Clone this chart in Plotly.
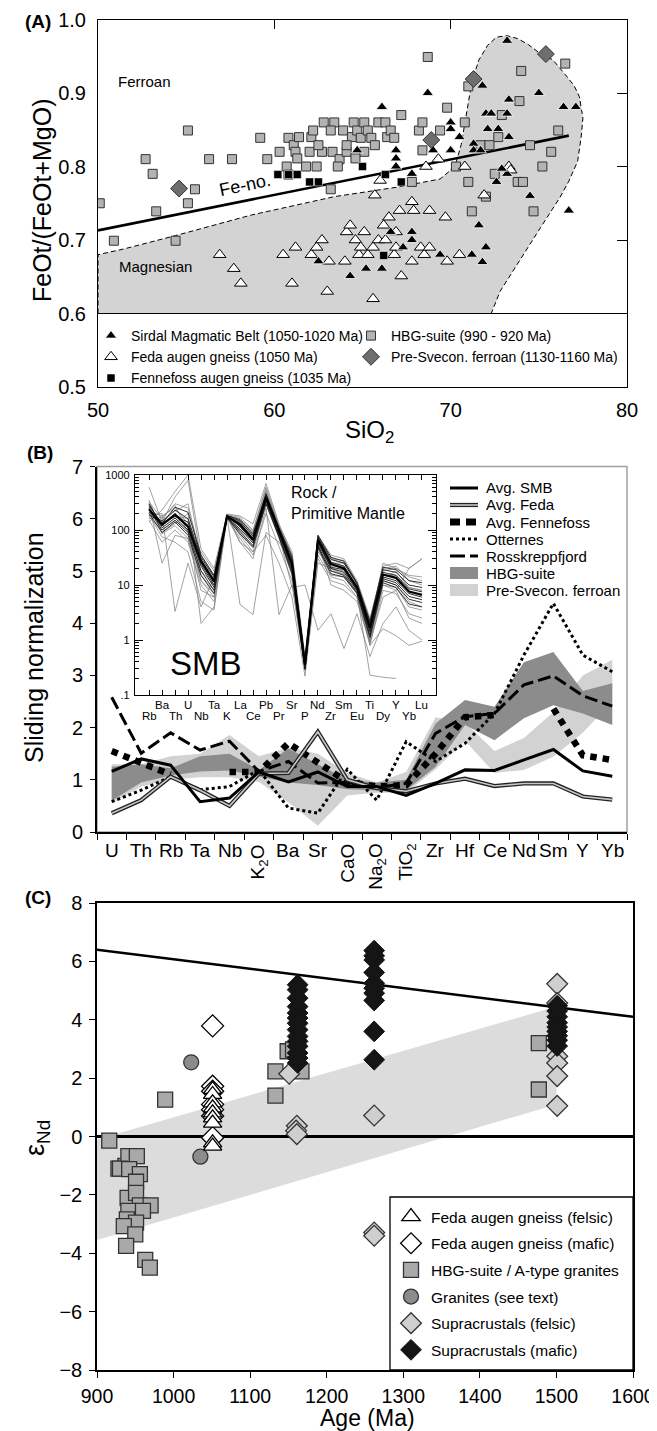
import plotly.graph_objects as go

# page is 657x1431; the HTML body has an 8px default margin, so the figure is 649x1423
OFF = 8
W, H = 657 - OFF, 1431 - OFF
FONT = "Liberation Sans, Arial, Helvetica, sans-serif"

# ======================= Panel A data (SiO2 vs Fe-number) =======================
hbg_si = [50.1, 50.9, 52.7, 53.1, 53.3, 54.4, 55.1, 55.1, 55.5, 56.3,
          57.6, 59.2, 59.6, 60.3, 60.7, 60.8, 60.8, 61.1, 61.2, 61.4,
          61.8, 62.0, 62.1, 62.2, 62.4, 62.7, 62.8, 63.2, 63.3, 63.4,
          63.2, 63.7, 63.9, 64.1, 64.4, 64.5, 64.7, 64.9, 65.1, 65.1,
          65.3, 65.5, 65.7, 65.9, 66.3, 66.4, 66.6, 66.8, 67.2, 67.8,
          68.2, 68.4, 68.7, 69.4, 69.8, 70.3, 70.8, 71.0, 71.0, 71.2,
          71.7, 72.0, 72.5, 72.7, 72.9, 73.9, 74.0, 73.8, 74.1, 74.5,
          74.7, 75.2, 75.7, 76.1, 76.5, 62.5, 64.1, 61.3, 64.6, 63.6,
          68.4, 72.2]
hbg_fe = [0.750, 0.699, 0.810, 0.790, 0.739, 0.699, 0.849, 0.750, 0.769, 0.810,
          0.810, 0.839, 0.810, 0.820, 0.800, 0.839, 0.789, 0.829, 0.820, 0.840,
          0.800, 0.820, 0.840, 0.849, 0.800, 0.820, 0.860, 0.769, 0.820, 0.860,
          0.849, 0.810, 0.849, 0.820, 0.840, 0.860, 0.849, 0.839, 0.860, 0.820,
          0.849, 0.839, 0.829, 0.860, 0.860, 0.840, 0.849, 0.839, 0.870, 0.779,
          0.849, 0.860, 0.949, 0.849, 0.880, 0.800, 0.860, 0.909, 0.779, 0.739,
          0.829, 0.759, 0.790, 0.840, 0.870, 0.889, 0.930, 0.779, 0.779, 0.829,
          0.739, 0.800, 0.820, 0.849, 0.940, 0.829, 0.829, 0.811, 0.811, 0.800,
          0.822, 0.829]

sirdal_si = [64.7, 66.1, 66.9, 66.9, 66.9, 67.8, 68.7, 69.0, 70.0, 70.0,
             70.0, 70.5, 71.3, 71.3, 71.7, 71.8, 72.0, 72.3, 72.1, 72.7,
             73.2, 73.3, 73.3, 73.2, 73.2, 72.6, 72.9, 74.5, 75.0, 76.4,
             77.1, 76.7, 71.6, 72.0, 71.8, 71.2, 69.4, 67.8, 67.8, 67.3,
             66.6, 65.2, 66.1, 64.3, 62.5]
sirdal_fe = [0.822, 0.881, 0.822, 0.811, 0.800, 0.790, 0.900, 0.822, 0.860, 0.851,
             0.822, 0.840, 0.831, 0.822, 0.822, 0.910, 0.872, 0.872, 0.851, 0.851,
             0.872, 0.891, 0.840, 0.790, 0.971, 0.779, 0.797, 0.760, 0.900, 0.881,
             0.881, 0.740, 0.720, 0.690, 0.670, 0.680, 0.680, 0.711, 0.700, 0.690,
             0.711, 0.661, 0.661, 0.651, 0.671]

feda_si = [56.9, 57.7, 58.1, 60.5, 61.0, 61.2, 62.1, 62.4, 62.7, 63.1,
           63.0, 64.0, 64.1, 64.3, 64.6, 64.8, 64.9, 65.1, 65.3, 65.6,
           65.6, 65.7, 65.9, 66.0, 66.2, 66.3, 66.5, 66.8, 66.9, 66.9,
           67.1, 67.2, 67.8, 67.9, 67.8, 68.3, 68.5, 68.6, 68.8, 68.8,
           69.3, 69.7, 69.8, 70.5, 70.8, 71.9, 73.3, 73.4]
feda_fe = [0.680, 0.661, 0.641, 0.680, 0.641, 0.690, 0.680, 0.690, 0.700, 0.671,
           0.630, 0.671, 0.711, 0.720, 0.700, 0.680, 0.690, 0.711, 0.680, 0.690,
           0.620, 0.761, 0.700, 0.781, 0.720, 0.700, 0.731, 0.680, 0.690, 0.711,
           0.740, 0.651, 0.752, 0.740, 0.671, 0.690, 0.680, 0.800, 0.690, 0.740,
           0.810, 0.731, 0.671, 0.680, 0.800, 0.761, 0.800, 0.795]

fenne_si = [60.2, 60.8, 61.3, 62.0, 62.5, 65.0, 66.3, 67.2, 66.2]
fenne_fe = [0.789, 0.789, 0.789, 0.779, 0.779, 0.800, 0.789, 0.779, 0.679]

presv_si = [54.6, 68.9, 71.3, 75.4]
presv_fe = [0.770, 0.836, 0.919, 0.953]

feno_si = [50.0, 76.7]
feno_fe = [0.713, 0.842]

mag_si = [50.0, 50.0, 51.5, 54.4, 58.7, 63.4, 67.0, 69.4, 69.9, 70.3, 70.6, 70.8,
          71.0, 71.2, 71.6, 72.1, 72.6, 73.2, 73.8, 74.4, 75.0, 75.8, 76.5, 77.0,
          77.3, 77.5, 77.4, 77.2, 76.7, 76.2, 75.1, 74.4, 73.6, 72.8, 72.3, 50.0]
mag_fe = [0.600, 0.680, 0.688, 0.706, 0.734, 0.759, 0.772, 0.783, 0.793, 0.805, 0.830, 0.860,
          0.890, 0.915, 0.945, 0.965, 0.976, 0.978, 0.974, 0.966, 0.955, 0.945, 0.925, 0.910,
          0.895, 0.866, 0.840, 0.807, 0.780, 0.758, 0.717, 0.690, 0.660, 0.630, 0.600, 0.600]

# ======================= Panel B data (sliding normalization) =======================
b_cats = ["U", "Th", "Rb", "Ta", "Nb", "K2O", "Ba", "Sr", "CaO", "Na2O",
          "TiO2", "Zr", "Hf", "Ce", "Nd", "Sm", "Y", "Yb"]
b_labels = ["U", "Th", "Rb", "Ta", "Nb", "K<sub>2</sub>O", "Ba", "Sr", "CaO", "Na<sub>2</sub>O",
            "TiO<sub>2</sub>", "Zr", "Hf", "Ce", "Nd", "Sm", "Y", "Yb"]
b_rotated = ["K2O", "CaO", "Na2O", "TiO2"]

avg_smb = [1.16, 1.40, 1.28, 0.58, 0.65, 1.15, 0.96, 1.15, 0.87, 0.87,
           0.70, 0.93, 1.19, 1.18, 1.38, 1.58, 1.17, 1.07]
avg_feda = [0.36, 0.61, 1.06, 0.80, 0.50, 1.12, 1.13, 1.92, 1.00, 0.84,
            0.78, 0.93, 1.02, 0.88, 0.93, 0.93, 0.68, 0.62]
avg_fennefoss = [1.55, 1.33, 1.10, None, 1.15, 1.15, 1.70, 1.32, 0.96, 0.87,
                 0.90, 1.50, 2.20, 2.24, None, 2.36, 1.47, 1.38]
otternes = [0.58, 0.80, 1.06, 0.81, 0.87, 1.19, 0.46, 0.36, 1.20, 0.61,
            1.73, 1.35, 1.70, 2.27, 3.39, 4.38, 3.39, 3.07]
rosskreppfjord = [2.58, 1.51, 1.90, 1.57, 1.74, 1.16, 1.35, 0.94, 0.95, 0.85,
                  0.93, 1.89, 2.21, 2.27, 2.82, 2.99, 2.61, 2.41]
hbg_hi = [1.25, 1.30, 1.22, 1.45, 1.50, 1.19, 1.60, 1.30, 1.00, 0.95,
          1.00, 2.08, 2.53, 2.40, 3.25, 3.45, 2.70, 2.85]
hbg_lo = [0.60, 0.95, 1.08, 1.16, 1.18, 1.06, 0.95, 0.90, 0.82, 0.80,
          0.80, 1.25, 2.05, 1.76, 2.18, 2.43, 2.27, 2.05]
psv_hi = [1.30, 1.30, 1.45, 1.50, 1.86, 1.45, 1.62, 1.50, 1.13, 0.95,
          1.15, 2.20, 2.10, 1.55, 1.80, 2.30, 3.00, 3.30]
psv_lo = [0.55, 0.87, 1.00, 1.05, 1.05, 0.96, 0.57, 0.12, 0.70, 0.75,
          0.75, 1.20, 1.75, 1.13, 1.19, 1.44, 1.90, 2.50]

# ---- inset: SMB rock / primitive mantle spider diagram ----
inset_cats = ["Rb", "Ba", "Th", "U", "Nb", "Ta", "K", "La", "Ce", "Pb", "Pr",
              "Sr", "P", "Nd", "Zr", "Sm", "Eu", "Ti", "Dy", "Y", "Yb", "Lu"]
inset_mean = [237, 125, 190, 115, 27, 11.5, 178, 125, 67, 390, 96,
              24, 0.35, 67, 24, 20, 9, 1.66, 15.5, 13.5, 7.6, 6.6]
inset_dark = [
    [260, 110, 165, 100, 22, 9, 170, 105, 58, 350, 85, 20, 0.32, 58, 20, 17, 8, 1.4, 13, 11, 6.2, 5.4],
    [210, 145, 230, 160, 32, 14, 185, 145, 78, 430, 108, 28, 0.40, 76, 29, 25, 10.5, 2.0, 19, 17, 10, 9],
    [300, 120, 200, 120, 24, 10, 180, 115, 62, 410, 92, 22, 0.34, 62, 21, 19, 8.5, 1.5, 14, 12, 7, 6],
    [190, 135, 175, 140, 29, 12.5, 176, 135, 72, 370, 100, 26, 0.37, 70, 26, 22, 9.5, 1.8, 17, 15, 8.5, 7.5],
    [240, 100, 150, 90, 18, 8, 172, 95, 52, 330, 80, 18, 0.30, 52, 18, 15, 7.5, 1.2, 12, 10, 5.5, 4.8],
    [280, 130, 260, 210, 35, 15, 182, 155, 85, 460, 112, 32, 0.42, 80, 32, 27, 11, 2.2, 21, 19, 12, 11],
    [200, 90, 140, 80, 15, 7, 168, 85, 48, 300, 75, 16, 0.29, 48, 16, 14, 7, 1.1, 11, 9, 4.5, 4],
]
inset_gray = [
    [600, 140, 400, 800, 30, 13, 190, 170, 100, 600, 120, 40, 0.5, 80, 35, 30, 12, 2.5, 20, 22, 12, 10],
    [150, 60, 100, 60, 10, 5, 170, 80, 40, 300, 70, 15, 0.3, 45, 15, 14, 7, 1.0, 10, 9, 4, 3.5],
    [180, 200, 3.3, 25, 4, 14, 160, 150, 90, 350, 100, 30, 0.4, 60, 25, 25, 10, 2.0, 15, 15, 9, 8],
    [250, 90, 130, 200, 2, 4, 175, 4.4, 2.9, 90, 60, 25, 0.3, 40, 20, 18, 8, 1.2, 12, 10, 5, 4],
    [140, 230, 500, 1000, 45, 20, 195, 180, 130, 700, 130, 35, 0.45, 70, 30, 28, 11, 2.2, 22, 25, 20, 30],
    [300, 25, 80, 70, 8, 6, 170, 60, 30, 250, 2.9, 10, 0.3, 30, 12, 10, 6, 0.8, 8, 7, 3, 2.5],
    [220, 180, 250, 130, 15, 8, 180, 130, 70, 500, 80, 9, 10, 1.5, 3, 0.7, 3, 0.5, 2, 4, 1.5, 1],
    [170, 100, 150, 100, 12, 7, 170, 90, 50, 380, 75, 18, 0.32, 50, 18, 16, 7, 0.23, 0.21, 0.2, None, None],
    [320, 160, 300, 250, 35, 15, 185, 160, 95, 550, 110, 35, 0.38, 70, 30, 25, 11, 1.8, 25, 20, 15, 14],
    [190, 75, 60, 40, 5, 3.5, 165, 70, 35, 200, 50, 12, 0.28, 35, 14, 12, 6, 0.9, 10, 8, 2.5, 2],
    [240, 140, 220, 300, 28, 12, 180, 140, 80, 450, 100, 30, 0.36, 65, 25, 22, 9, 0.8, 1.6, 1.2, 0.8, 0.95],
    [210, 120, 180, 160, 18, 10, 175, 120, 65, 400, 95, 22, 0.35, 60, 10, 8, 5, 0.9, 6, 8, 20, 30],
    [160, 170, 280, 90, 40, 18, 190, 60, 40, 80, 25, 6, 0.22, 25, 20, 15, 9, 1.2, 13, 18, 9, 8],
    [350, 85, 120, 70, 12, 6, 180, 100, 65, 420, 95, 35, 0.3, 55, 22, 22, 8, 1.8, 18, 20, 14, 12],
]

# ======================= Panel C data (eps Nd vs age) =======================
fedaf_age = [1051, 1051, 1051, 1051, 1051, 1051, 1051, 1051, 1051]
fedaf_eps = [1.61, 1.44, 1.15, 0.98, 0.81, 0.64, 0.46, -0.22, -0.33]
fedam_age = [1051, 1051, 1051, 1051, 1051, 1051, 1051]
fedam_eps = [3.79, 1.72, 1.55, 1.10, 0.92, 0.70, -0.04]
hbgc_age = [916, 937, 928, 941, 952, 930, 942, 956, 951, 940,
            951, 956, 970, 941, 960, 939, 951, 935, 950, 938,
            963, 969, 989, 1133, 1133, 1149, 1156, 1167, 1477, 1477]
hbgc_eps = [-0.14, -1.01, -1.10, -0.67, -0.67, -1.10, -1.12, -1.29, -1.55, -2.10,
            -1.93, -2.36, -2.36, -2.55, -2.55, -2.84, -2.95, -3.07, -3.35, -3.75,
            -4.23, -4.49, 1.26, 2.23, 1.40, 2.92, 2.98, 2.23, 3.20, 1.61]
gran_age = [1023, 1035]
gran_eps = [2.54, -0.69]
supf_age = [1151, 1161, 1160, 1161, 1262, 1262, 1262, 1501, 1501, 1501, 1501, 1501, 1501]
supf_eps = [2.15, 0.37, 0.20, 0.08, 0.72, -3.29, -3.40, 5.23, 4.57, 2.75, 2.52, 2.07, 1.05]
supm_age = [1162] * 14 + [1262] * 10 + [1501] * 9
supm_eps = [5.20, 5.03, 4.74, 4.45, 4.23, 4.06, 3.88, 3.66, 3.43, 3.26, 3.09, 2.86, 2.69, 2.52,
            6.37, 6.19, 6.05, 5.62, 5.25, 5.08, 4.91, 4.66, 3.60, 2.63,
            4.48, 4.30, 4.10, 3.90, 3.75, 3.60, 3.45, 3.30, 3.10]
band_age = [900, 1500, 1500, 900]
band_eps = [-0.1, 4.45, 1.1, -3.55]
dm_age = [900, 1600]
dm_eps = [6.4, 4.1]
chur_age = [900, 1600]
chur_eps = [0.0, 0.0]


def PX(x):
    return (x - OFF) / W


def PY(y):
    return 1 - (y - OFF) / H


traces = []
NL = dict(showlegend=False, hoverinfo="skip")

# ---------------- Panel A traces ----------------
traces.append(go.Scatter(x=mag_si, y=mag_fe, mode="lines", fill="toself", fillcolor="#d3d3d3",
                         line=dict(color="black", width=1, dash="5px,3px"), xaxis="x", yaxis="y", **NL))
traces.append(go.Scatter(x=feno_si, y=feno_fe, mode="lines", line=dict(color="black", width=2.6),
                         xaxis="x", yaxis="y", **NL))
traces.append(go.Scatter(x=hbg_si, y=hbg_fe, mode="markers", name="HBG-suite (990 - 920 Ma)",
                         marker=dict(symbol="square", size=9, color="#b3b3b3", line=dict(color="#333", width=1)),
                         xaxis="x", yaxis="y", legend="legend3", legendrank=1))
traces.append(go.Scatter(x=feda_si, y=feda_fe, mode="markers", name="Feda augen gneiss (1050 Ma)",
                         marker=dict(symbol="triangle-up", size=11, color="white", line=dict(color="black", width=1)),
                         xaxis="x", yaxis="y", legend="legend", legendrank=2))
traces.append(go.Scatter(x=sirdal_si, y=sirdal_fe, mode="markers", name="Sirdal Magmatic Belt (1050-1020 Ma)",
                         marker=dict(symbol="triangle-up", size=10, color="black", line=dict(color="white", width=0.8)),
                         xaxis="x", yaxis="y", legend="legend", legendrank=1))
traces.append(go.Scatter(x=presv_si, y=presv_fe, mode="markers", name="Pre-Svecon. ferroan (1130-1160 Ma)",
                         marker=dict(symbol="diamond", size=13, color="#6e6e6e", line=dict(color="#333", width=1)),
                         xaxis="x", yaxis="y", legend="legend3", legendrank=2))
traces.append(go.Scatter(x=fenne_si, y=fenne_fe, mode="markers", name="Fennefoss augen gneiss (1035 Ma)",
                         marker=dict(symbol="square", size=8, color="black", line=dict(color="white", width=0.5)),
                         xaxis="x", yaxis="y", legend="legend", legendrank=3))
traces.append(go.Scatter(x=[], y=[], xaxis="x5", yaxis="y5", **NL))

# ---------------- Panel B traces ----------------
bx = list(range(len(b_cats)))
traces.append(go.Scatter(x=bx + bx[::-1], y=psv_hi + psv_lo[::-1], mode="lines", fill="toself",
                         fillcolor="#d2d2d2", line=dict(width=0, color="#d2d2d2"), xaxis="x2", yaxis="y2", **NL))
traces.append(go.Scatter(x=bx + bx[::-1], y=hbg_hi + hbg_lo[::-1], mode="lines", fill="toself",
                         fillcolor="#8c8c8c", line=dict(width=0, color="#8c8c8c"), xaxis="x2", yaxis="y2", **NL))
traces.append(go.Scatter(x=bx, y=otternes, mode="lines", line=dict(color="black", width=3, dash="3px,3px"),
                         xaxis="x2", yaxis="y2", **NL))
traces.append(go.Scatter(x=bx, y=rosskreppfjord, mode="lines", line=dict(color="black", width=3, dash="13px,5px"),
                         xaxis="x2", yaxis="y2", **NL))
traces.append(go.Scatter(x=bx, y=avg_fennefoss, mode="lines", connectgaps=False,
                         line=dict(color="black", width=6.5, dash="6.5px,6px"), xaxis="x2", yaxis="y2", **NL))
traces.append(go.Scatter(x=bx, y=avg_feda, mode="lines", line=dict(color="#222", width=4.2),
                         xaxis="x2", yaxis="y2", **NL))
traces.append(go.Scatter(x=bx, y=avg_feda, mode="lines", line=dict(color="#c8c8c8", width=1.6),
                         xaxis="x2", yaxis="y2", **NL))
traces.append(go.Scatter(x=bx, y=avg_smb, mode="lines", line=dict(color="black", width=3),
                         xaxis="x2", yaxis="y2", **NL))

# inset
ix = list(range(len(inset_cats)))
for g in inset_gray:
    traces.append(go.Scatter(x=ix, y=g, mode="lines", line=dict(color="#7a7a7a", width=0.7),
                             xaxis="x3", yaxis="y3", **NL))
for d in inset_dark:
    traces.append(go.Scatter(x=ix, y=d, mode="lines", line=dict(color="#1a1a1a", width=0.9),
                             xaxis="x3", yaxis="y3", **NL))
traces.append(go.Scatter(x=ix, y=inset_mean, mode="lines", line=dict(color="black", width=2.2),
                         xaxis="x3", yaxis="y3", **NL))

# ---------------- Panel C traces ----------------
traces.append(go.Scatter(x=band_age, y=band_eps, mode="lines", fill="toself", fillcolor="#dcdcdd",
                         line=dict(width=0, color="#dcdcdd"), xaxis="x4", yaxis="y4", **NL))
traces.append(go.Scatter(x=chur_age, y=chur_eps, mode="lines", line=dict(color="black", width=3),
                         xaxis="x4", yaxis="y4", **NL))
traces.append(go.Scatter(x=dm_age, y=dm_eps, mode="lines", line=dict(color="black", width=2.5),
                         xaxis="x4", yaxis="y4", **NL))
LC = dict(xaxis="x4", yaxis="y4", legend="legend2", mode="markers")
traces.append(go.Scatter(x=hbgc_age, y=hbgc_eps, name="HBG-suite / A-type granites", legendgroup="c3", legendrank=3,
                         marker=dict(symbol="square", size=15, color="#a9a9a9", line=dict(color="#333", width=1.3)), **LC))
traces.append(go.Scatter(x=gran_age, y=gran_eps, name="Granites (see text)", legendgroup="c4", legendrank=4,
                         marker=dict(symbol="circle", size=15, color="#8c8c8c", line=dict(color="#333", width=1.3)), **LC))
traces.append(go.Scatter(x=fedam_age, y=fedam_eps, name="Feda augen gneiss (mafic)", legendgroup="c2", legendrank=2,
                         marker=dict(symbol="diamond", size=17, color="white", line=dict(color="black", width=1.3)), **LC))
traces.append(go.Scatter(x=fedaf_age, y=fedaf_eps, name="Feda augen gneiss (felsic)", legendgroup="c1", legendrank=1,
                         marker=dict(symbol="triangle-up", size=16, color="white", line=dict(color="black", width=1.3)), **LC))
traces.append(go.Scatter(x=supf_age, y=supf_eps, name="Supracrustals (felsic)", legendgroup="c5", legendrank=5,
                         marker=dict(symbol="diamond", size=16, color="#cfcfcf", line=dict(color="#333", width=1.3)), **LC))
traces.append(go.Scatter(x=supm_age, y=supm_eps, name="Supracrustals (mafic)", legendgroup="c6", legendrank=6,
                         marker=dict(symbol="diamond", size=16, color="#151515", line=dict(color="#151515", width=1)), **LC))

fig = go.Figure(traces)

TF = dict(size=20, family=FONT, color="black")
common = dict(showgrid=False, zeroline=False, linecolor="black", tickcolor="black",
              automargin=False, ticklabeloverflow="allow")

minor_log = [m * 10 ** e for e in range(-1, 3) for m in range(2, 10)]
LEGA = dict(xanchor="left", yanchor="top", font=dict(size=14, family=FONT, color="black"),
            bgcolor="rgba(0,0,0,0)", borderwidth=0, traceorder="normal")

fig.update_layout(
    template="none",
    width=W, height=H, autosize=False,
    margin=dict(l=0, r=0, t=0, b=0, pad=0, autoexpand=False),
    paper_bgcolor="white", plot_bgcolor="white",
    font=dict(family=FONT, color="black"),
    # Panel A
    xaxis=dict(domain=[PX(98), PX(627)], range=[50, 80], dtick=10, ticks="", showline=True, mirror=True,
               linewidth=1, anchor="y", ticklabelstandoff=5, tickfont=TF, **common),
    yaxis=dict(domain=[PY(387), PY(19.5)], range=[0.5, 1.0], dtick=0.1, tickformat=".1f", ticks="",
               showline=True, mirror=True, linewidth=1, anchor="x", ticklabelstandoff=7, tickfont=TF, **common),
    xaxis5=dict(overlaying="x", side="top", anchor="y5", range=[50, 80], tickvals=[60, 70], ticks="inside",
                ticklen=9, showticklabels=False, showline=False, showgrid=False, zeroline=False,
                tickcolor="black", automargin=False),
    yaxis5=dict(overlaying="y", side="right", anchor="x5", range=[0.5, 1.0], tickvals=[0.7, 0.8, 0.9],
                ticks="inside", ticklen=10, showticklabels=False, showline=False, showgrid=False,
                zeroline=False, tickcolor="black", automargin=False),
    # Panel B
    xaxis2=dict(domain=[PX(97), PX(627)], range=[-0.5, 17.5], tickvals=[i - 0.5 for i in range(19)],
                showticklabels=False, ticks="outside", ticklen=6, tickwidth=1.2, showline=True, linewidth=2,
                anchor="y2", tickfont=TF, **common),
    yaxis2=dict(domain=[PY(832), PY(466.6)], range=[0, 7], dtick=1, ticks="outside", ticklen=5, showline=True,
                linewidth=2, anchor="x2", ticklabelstandoff=3, tickfont=TF, **common),
    # Inset
    xaxis3=dict(domain=[PX(135), PX(436)], range=[-1.08, 22.08], tickvals=ix, ticks="inside", ticklen=5,
                mirror="allticks", showline=True, linewidth=1.2, showticklabels=False, anchor="y3",
                tickfont=TF, **common),
    yaxis3=dict(domain=[PY(695), PY(475)], type="log", range=[-1, 3], tickvals=[0.1, 1, 10, 100, 1000],
                ticktext=[".1", "1", "10", "100", "1000"], ticks="inside", ticklen=8, mirror="allticks",
                showline=True, linewidth=1.2, anchor="x3",
                minor=dict(tickvals=minor_log, ticks="inside", ticklen=4, tickcolor="black"),
                tickfont=dict(size=11, family=FONT, color="black"), ticklabelstandoff=2, **common),
    # Panel C
    xaxis4=dict(domain=[PX(97), PX(633)], range=[900, 1600], dtick=100, ticks="outside", ticklen=6,
                showline=True, mirror=True, linewidth=1.5, anchor="y4", ticklabelstandoff=2,
                tickfont=dict(size=19.5, family=FONT, color="black"), **common),
    yaxis4=dict(domain=[PY(1370), PY(903)], range=[-8, 8], dtick=2, ticks="outside", ticklen=6,
                showline=True, mirror=True, linewidth=1.5, anchor="x4", ticklabelstandoff=3, tickfont=TF, **common),
    legend=dict(x=PX(91), y=PY(320), **LEGA),
    legend3=dict(x=PX(351), y=PY(320), **LEGA),
    legend2=dict(x=PX(391), y=PY(1200), xanchor="left", yanchor="top",
                 font=dict(size=15.5, family=FONT, color="black"),
                 tracegroupgap=3.5, bgcolor="rgba(0,0,0,0)", borderwidth=0, traceorder="grouped"),
)

shapes = []
# Panel A: legend separator line at 0.6
shapes.append(dict(type="line", xref="x domain", yref="y", x0=0, x1=1, y0=0.6, y1=0.6,
                   line=dict(color="black", width=1.2), layer="above"))
# Panel B: gray frame on top/right
shapes.append(dict(type="rect", xref="x2 domain", yref="y2 domain", x0=0, x1=1, y0=0, y1=1,
                   line=dict(color="#a0a0a0", width=1.5), layer="below"))
# Panel C: legend box
shapes.append(dict(type="rect", xref="paper", yref="paper", x0=PX(390), x1=PX(633), y0=PY(1370), y1=PY(1197),
                   line=dict(color="black", width=1.3), fillcolor="white", layer="above"))

# Panel B legend (manual)
b_leg = ["Avg. SMB", "Avg. Feda", "Avg. Fennefoss", "Otternes", "Rosskreppfjord", "HBG-suite",
         "Pre-Svecon. ferroan"]
rows = [488, 505, 522, 539, 556, 573, 590]
lx0, lx1 = PX(450), PX(478)
leg_styles = [
    [dict(color="black", width=3)],
    [dict(color="#222", width=4.2), dict(color="#c8c8c8", width=1.6)],
    [dict(color="black", width=7, dash="10px,6px")],
    [dict(color="black", width=3, dash="3px,3px")],
    [dict(color="black", width=3, dash="15px,5px")],
]
for i, st in enumerate(leg_styles):
    for s in st:
        shapes.append(dict(type="line", xref="paper", yref="paper", x0=lx0, x1=lx1, y0=PY(rows[i]),
                           y1=PY(rows[i]), line=s, layer="above"))
for i, col in [(5, "#8c8c8c"), (6, "#d2d2d2")]:
    shapes.append(dict(type="rect", xref="paper", yref="paper", x0=lx0, x1=lx1, y0=PY(rows[i] + 6),
                       y1=PY(rows[i] - 6), line=dict(width=0), fillcolor=col, layer="above"))

annotations = []


def ann(text, x, y, size, **kw):
    d = dict(text=text, x=PX(x), y=PY(y), xref="paper", yref="paper", showarrow=False,
             xanchor="center", yanchor="middle",
             font=dict(size=size, family=FONT, color="black"))
    d.update(kw)
    return d


for i, t in enumerate(b_leg):
    annotations.append(ann(t, 484, rows[i], 15, xanchor="left", yanchor="middle"))

# panel labels and titles
annotations.append(ann("<b>(A)</b>", 38, 21, 19))
annotations.append(ann("<b>(B)</b>", 40, 452, 19))
annotations.append(ann("<b>(C)</b>", 38, 897, 19))
annotations.append(ann("FeOt/(FeOt+MgO)", 42, 200, 25, textangle=-90))
annotations.append(ann("SiO<sub>2</sub>", 369, 431, 24))
annotations.append(ann("Sliding normalization", 34, 648, 25, textangle=-90))
annotations.append(ann("ε<sub>Nd</sub>", 37, 1138, 27, textangle=-90))
annotations.append(ann("Age (Ma)", 367, 1418, 23))
annotations.append(ann("Ferroan", 144, 81, 15))
annotations.append(ann("Magnesian", 155, 266, 15))
annotations.append(ann("Fe-no.", 245, 185, 18, textangle=-12))
annotations.append(ann("Rock /<br>Primitive Mantle", 289, 482, 16, xanchor="left", yanchor="top", align="left"))
annotations.append(ann("SMB", 206, 663, 33))

# Panel B category labels
for i, (c, lab) in enumerate(zip(b_cats, b_labels)):
    if c in b_rotated:
        annotations.append(dict(text=lab, x=i, y=PY(842), xref="x2", yref="paper", showarrow=False,
                                textangle=-90, yanchor="top", xanchor="center",
                                font=dict(size=19, family=FONT, color="black")))
    else:
        annotations.append(dict(text=lab, x=i, y=PY(850), xref="x2", yref="paper", showarrow=False,
                                yanchor="middle", xanchor="center",
                                font=dict(size=19, family=FONT, color="black")))

# Inset category labels (two staggered rows)
for i, c in enumerate(inset_cats):
    yy = 705 if i % 2 == 1 else 716
    annotations.append(dict(text=c, x=i, y=PY(yy), xref="x3", yref="paper", showarrow=False,
                            yanchor="middle", xanchor="center",
                            font=dict(size=11.5, family=FONT, color="black")))

fig.update_layout(shapes=shapes, annotations=annotations)
fig.write_html("out.html")
